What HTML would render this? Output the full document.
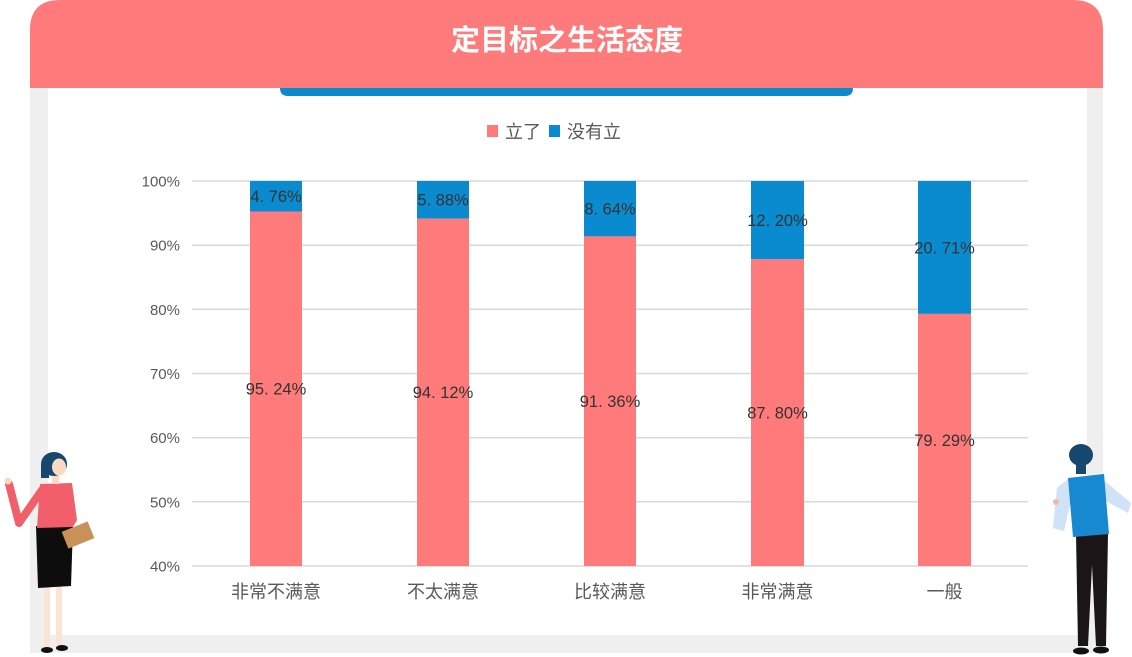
<!DOCTYPE html>
<html>
<head>
<meta charset="utf-8">
<style>
html,body{margin:0;padding:0;background:#ffffff;}
body{width:1132px;height:657px;overflow:hidden;}
svg{display:block;}
text{font-family:"Liberation Sans","Noto Sans CJK SC",sans-serif;}
</style>
</head>
<body>
<svg width="1132" height="657" viewBox="0 0 1132 657" xmlns="http://www.w3.org/2000/svg">
  <!-- frame -->
  <rect x="30" y="86" width="1073" height="567" fill="#efefef"/>
  <rect x="48" y="86" width="1039" height="549" fill="#ffffff"/>
  <!-- header -->
  <path d="M30,88 L30,30 Q30,0 60,0 L1073,0 Q1103,0 1103,30 L1103,88 Z" fill="#ff7b7b"/>
  <path d="M280,88 L853,88 L853,88 Q853,96 845,96 L288,96 Q280,96 280,88 Z" fill="#0a8bcf"/>
  <text x="567" y="50" text-anchor="middle" font-size="29" font-weight="bold" fill="#ffffff">定目标之生活态度</text>

  <!-- legend -->
  <rect x="487" y="125" width="11" height="12" fill="#ff7b7b"/>
  <text x="505" y="138" font-size="18" fill="#595959">立了</text>
  <rect x="549" y="125" width="11" height="12" fill="#0a8bcf"/>
  <text x="567" y="138" font-size="18" fill="#595959">没有立</text>

  <!-- gridlines -->
  <g stroke="#d9d9d9" stroke-width="1.5">
    <line x1="192" y1="181" x2="1028" y2="181"/>
    <line x1="192" y1="245.2" x2="1028" y2="245.2"/>
    <line x1="192" y1="309.3" x2="1028" y2="309.3"/>
    <line x1="192" y1="373.5" x2="1028" y2="373.5"/>
    <line x1="192" y1="437.7" x2="1028" y2="437.7"/>
    <line x1="192" y1="501.8" x2="1028" y2="501.8"/>
    <line x1="192" y1="566" x2="1028" y2="566"/>
  </g>
  <!-- y labels -->
  <g font-size="15" fill="#595959" text-anchor="end">
    <text x="180" y="186.5">100%</text>
    <text x="180" y="250.7">90%</text>
    <text x="180" y="314.8">80%</text>
    <text x="180" y="379">70%</text>
    <text x="180" y="443.2">60%</text>
    <text x="180" y="507.3">50%</text>
    <text x="180" y="571.5">40%</text>
  </g>

  <!-- bars -->
  <g>
    <rect x="250" y="181" width="52" height="30.5" fill="#0a8bcf"/>
    <rect x="250" y="211.5" width="52" height="354.5" fill="#ff7b7b"/>
    <rect x="417" y="181" width="52" height="37.7" fill="#0a8bcf"/>
    <rect x="417" y="218.7" width="52" height="347.3" fill="#ff7b7b"/>
    <rect x="584" y="181" width="52" height="55.4" fill="#0a8bcf"/>
    <rect x="584" y="236.4" width="52" height="329.6" fill="#ff7b7b"/>
    <rect x="751" y="181" width="53" height="78.3" fill="#0a8bcf"/>
    <rect x="751" y="259.3" width="53" height="306.7" fill="#ff7b7b"/>
    <rect x="918" y="181" width="53" height="132.9" fill="#0a8bcf"/>
    <rect x="918" y="313.9" width="53" height="252.1" fill="#ff7b7b"/>
  </g>
  <!-- data labels -->
  <g font-size="16.5" fill="#333333" text-anchor="middle">
    <text x="276" y="202">4. 76%</text>
    <text x="276" y="394.6">95. 24%</text>
    <text x="443" y="205.6">5. 88%</text>
    <text x="443" y="398.2">94. 12%</text>
    <text x="610" y="214.5">8. 64%</text>
    <text x="610" y="407">91. 36%</text>
    <text x="777.5" y="226">12. 20%</text>
    <text x="777.5" y="418.6">87. 80%</text>
    <text x="944.5" y="253.4">20. 71%</text>
    <text x="944.5" y="445.9">79. 29%</text>
  </g>
  <!-- category labels -->
  <g font-size="18" fill="#595959" text-anchor="middle">
    <text x="276" y="598">非常不满意</text>
    <text x="443" y="598">不太满意</text>
    <text x="610" y="598">比较满意</text>
    <text x="777.5" y="598">非常满意</text>
    <text x="944.5" y="598">一般</text>
  </g>

  <!-- woman -->
  <g>
    <rect x="44" y="585" width="6" height="62" fill="#fde3d3"/>
    <rect x="56" y="585" width="6" height="60" fill="#fde3d3"/>
    <ellipse cx="47" cy="650" rx="6" ry="3" fill="#111"/>
    <ellipse cx="62" cy="648" rx="6" ry="3" fill="#111"/>
    <path d="M36,526 L73,526 L71,586 L38,588 Z" fill="#0d0d0d"/>
    <polyline points="9,484 19,523 42,490" fill="none" stroke="#f05f6a" stroke-width="8" stroke-linejoin="round" stroke-linecap="round"/>
    <circle cx="8" cy="481" r="3.5" fill="#fbd9c4"/>
    <path d="M40,484 L72,483 L77,520 L73,527 L37,528 Z" fill="#f05f6a"/>
    <rect x="52" y="474" width="7" height="10" fill="#fbd9c4"/>
    <ellipse cx="54" cy="464" rx="13" ry="12" fill="#17476e"/>
    <rect x="41" y="464" width="8" height="14" fill="#17476e"/>
    <ellipse cx="59" cy="467" rx="7" ry="8.5" fill="#fbd9c4"/>
    <g transform="rotate(-22 78 535)"><rect x="64" y="526" width="28" height="18" fill="#c99157"/></g>
  </g>

  <!-- man -->
  <g>
    <path d="M1076,534 L1108,534 L1106,646 L1096,646 L1092,565 L1088,646 L1078,646 Z" fill="#1b1517"/>
    <ellipse cx="1081" cy="651" rx="8" ry="3.5" fill="#111"/>
    <ellipse cx="1101" cy="650" rx="8" ry="3.5" fill="#111"/>
    <path d="M1069,478 L1057,488 L1053,528 L1064,531 L1071,500 Z" fill="#cfe2f7"/>
    <circle cx="1056" cy="502" r="3" fill="#f3b9a0"/>
    <path d="M1100,477 L1131,503 L1128,513 L1104,500 Z" fill="#cfe2f7"/>
    <path d="M1068,478 L1104,474 L1109,534 L1073,537 Z" fill="#1789d0"/>
    <ellipse cx="1081" cy="455" rx="12" ry="11" fill="#17476e"/>
    <rect x="1076" y="462" width="10" height="12" fill="#17476e"/>
  </g>
</svg>
</body>
</html>
